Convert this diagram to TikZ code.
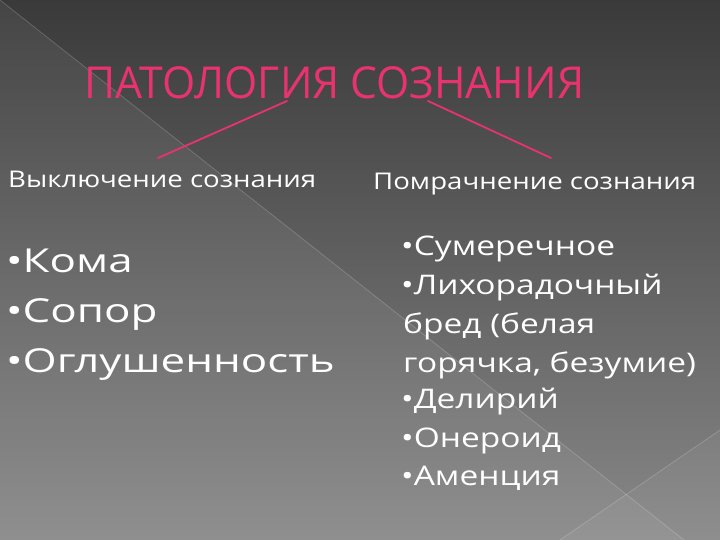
\documentclass[tikz,border=0pt]{standalone}
\usepackage{fontspec}
\setmainfont{Open Sans}
\newfontfamily\ttlfont[FakeStretch=0.97]{Open Sans}
\newfontfamily\bodyfont[FakeStretch=1.2]{Open Sans}
\newfontfamily\itemfont[FakeStretch=1.24]{Open Sans}
\newfontfamily\bigfont[FakeStretch=1.33]{Open Sans}
\definecolor{bgtop}{HTML}{3A3A3A}
\definecolor{bgbot}{HTML}{888888}
\definecolor{pinkc}{HTML}{E8336F}
\definecolor{txt}{HTML}{FFFFFF}
\tikzset{
  ttl/.style={anchor=base west, inner sep=0pt, font=\ttlfont\fontsize{44}{48}\selectfont},
  sub/.style={anchor=base west, inner sep=0pt, text=txt, font=\bodyfont\fontsize{23}{27}\selectfont},
  bigitem/.style={anchor=base west, inner sep=0pt, text=txt, font=\bigfont\fontsize{33}{38}\selectfont},
  item/.style={anchor=base west, inner sep=0pt, text=txt, font=\itemfont\fontsize{27}{31}\selectfont},
  conn/.style={draw=pinkc, line width=1.8pt, line cap=round},
}
\begin{document}
\begin{tikzpicture}[x=1pt,y=-1pt]
\useasboundingbox (0,0) rectangle (720,540);
% background
\fill[top color=bgtop, bottom color=bgbot] (0,0) rectangle (720,540);
\fill[white, opacity=0.06] (0,0) -- (684,540) -- (0,540) -- cycle;
\fill[white, opacity=0.05] (720,430) -- (560,540) -- (720,540) -- cycle;
\draw[white, opacity=0.18, line width=0.8pt] (0,0) -- (684,540);
\draw[white, opacity=0.18, line width=0.8pt] (720,430) -- (560,540);
% title
\node[ttl, text=pinkc] (title) at (84,99) {ПАТОЛОГИЯ СОЗНАНИЯ};
% connectors
\coordinate (la) at (287,101);
\coordinate (lb) at (158,158);
\coordinate (ra) at (428,101);
\coordinate (rb) at (551,158);
\draw[conn] (la) -- (lb);
\draw[conn] (ra) -- (rb);
% subheadings
\node[sub] (left) at (8,188) {Выключение сознания};
\node[sub] (right) at (373,190) {Помрачнение сознания};
% left list
\node[bigitem] (koma) at (6,272) {•Кома};
\node[bigitem] (sopor) at (6,322) {•Сопор};
\node[bigitem] (oglush) at (6,372) {•Оглушенность};
% right list
\node[item] (i1) at (401,255) {•Сумеречное};
\node[item] (i2) at (401,294) {•Лихорадочный};
\node[item] (i3) at (403,333) {бред (белая};
\node[item] (i4) at (403,372) {горячка, безумие)};
\node[item] (i5) at (401,408) {•Делирий};
\node[item] (i6) at (401,447) {•Онероид};
\node[item] (i7) at (401,485) {•Аменция};
\end{tikzpicture}
\end{document}
